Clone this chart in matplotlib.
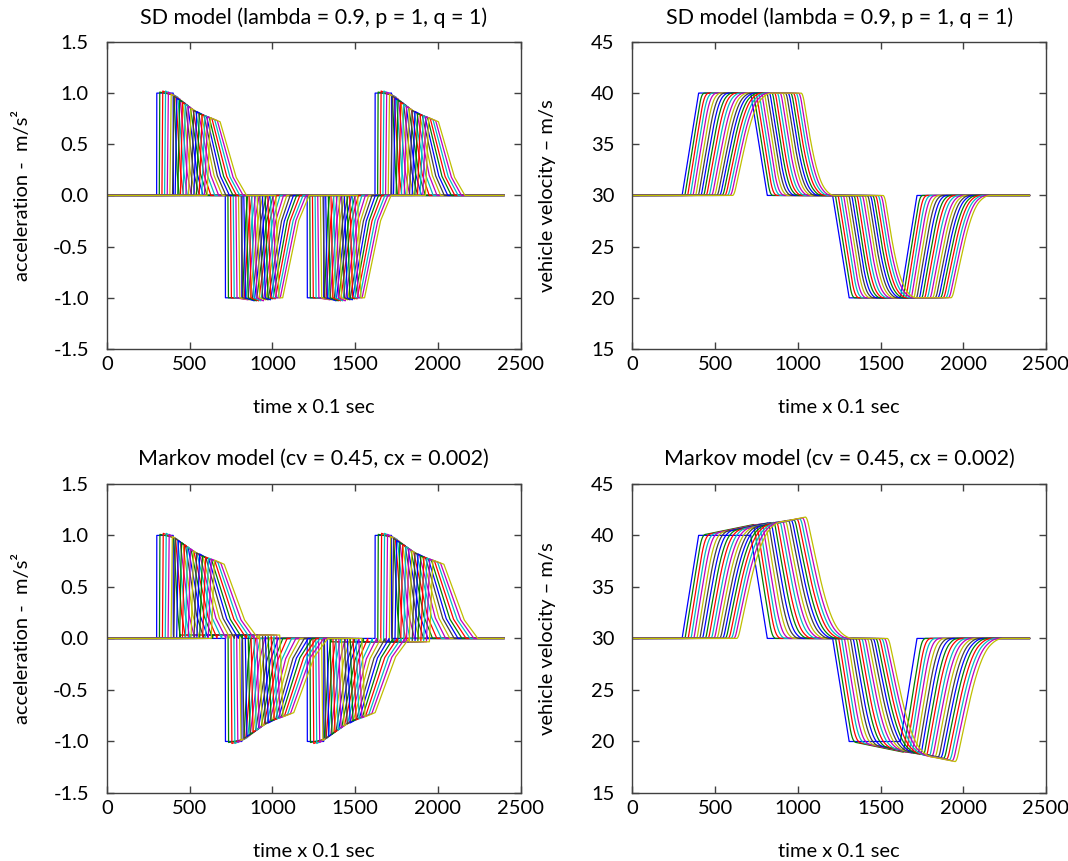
import numpy as np
import matplotlib
matplotlib.use("Agg")
import matplotlib.pyplot as plt
from matplotlib.ticker import FormatStrFormatter

plt.rcParams['font.family'] = ['Lato', 'DejaVu Sans']
plt.rcParams['axes.unicode_minus'] = False

# ---- data (time in steps of 0.1 s) ----
t_end = 2400
n_cars = 20
lead_start = [300, 715, 1210, 1620]          # lead car starts its 4 speed changes
sd_targets = [40, 30, 20, 30]                # SD model: speed after each change

# lag of each car behind the lead car
sd_lag = [0, 16, 32, 48, 64, 80, 96, 112, 128, 144, 160, 177, 193, 209, 225, 241, 257, 273, 289, 305]
mk_lag = [0, 17, 35, 52, 69, 87, 104, 121, 139, 156, 174, 191, 208, 226, 243, 260, 278, 295, 312, 330]

# shape of each car's acceleration pulse
rise_len = [1, 3, 5, 6, 7, 8, 9, 10, 11, 12, 13, 14, 15, 16, 17, 17, 18, 19, 19, 20]
sd_fall_len = [1, 30, 46, 57, 67, 77, 85, 93, 101, 108, 115, 121, 127, 133, 138, 143, 148, 152, 156, 160]
mk_fall_len = [1, 40, 60, 75, 88, 100, 111, 121, 131, 140, 149, 157, 165, 172, 179, 185, 191, 196, 201, 205]
acc_top_start = [1.0, 1.01, 1.02, 1.02, 1.01, 0.99, 0.97, 0.95, 0.93, 0.91, 0.89, 0.87, 0.85, 0.83,
                 0.82, 0.8, 0.79, 0.78, 0.77, 0.76]
acc_top_end = [1.0, 0.98, 0.97, 0.96, 0.94, 0.92, 0.9, 0.88, 0.86, 0.84, 0.82, 0.8, 0.79, 0.78,
               0.77, 0.76, 0.75, 0.74, 0.73, 0.72]
sd_brake_end = [1.0, 1.0, 1.01, 1.01, 1.02, 1.02, 1.02, 1.03, 1.03, 1.03, 1.03, 1.03, 1.02, 1.02,
                1.02, 1.01, 1.01, 1.0, 1.0, 1.0]

# Markov model: speed at end of the first speed-up and of the second slow-down
mk_top = [40.0, 40.1, 40.15, 40.2, 40.3, 40.35, 40.45, 40.5, 40.55, 40.6, 40.7, 40.75, 40.8, 40.9,
          40.95, 41.0, 41.1, 41.15, 41.25, 41.35]
mk_bottom = [20.0, 19.9, 19.85, 19.8, 19.7, 19.65, 19.55, 19.5, 19.4, 19.35, 19.25, 19.2, 19.1, 19.0,
             18.95, 18.85, 18.75, 18.65, 18.55, 18.45]
mk_drift = 0.033   # slow speed creep of the followers on the plateaus (m/s^2)

# old matlab colour order
car_colors = ['#0000ff', '#008000', '#ff0000', '#00bfbf', '#bf00bf', '#bfbf00', '#404040']

t = np.arange(0, t_end + 1)


def pulse(start, area, rise, fall, a0, a1):
    # quick rise, sloping top, soft tail; area = 10 * speed change
    body = (area - rise * a0 / 2 - 0.425 * fall * a1) / ((a0 + a1) / 2)
    t1 = start + rise
    t2 = t1 + body
    return [start, t1, t2, t2 + 0.6 * fall, t2 + fall], [0, a0, a1, 0.25 * a1, 0]


def car_trace(k, lag, fall, targets, brake_end, drift):
    acc = np.zeros(t.size)
    speed = 30.0
    end = 0
    for j in range(4):
        start = lead_start[j] + lag[k]
        if drift and k > 0 and j in (1, 3):
            sg = 1 if j == 1 else -1
            gap = (t > end) & (t < start)
            acc[gap] += sg * drift
            speed += sg * drift * gap.sum() * 0.1
        dv = targets[j] - speed
        a0 = acc_top_start[k]
        a1 = acc_top_end[k]
        if brake_end is not None and dv < 0:
            a0, a1 = 1.0, brake_end[k]
        kt, ka = pulse(start, abs(dv) * 10, rise_len[k], fall[k], a0, a1)
        acc += np.sign(dv) * np.interp(t, kt, ka)
        speed = targets[j]
        end = kt[-1]
    return acc, 30 + np.cumsum(acc) * 0.1


fig = plt.figure(figsize=(10.68, 8.61), dpi=100)
ax_sd_a = fig.add_axes([0.1002, 0.5947, 0.3872, 0.3566])
ax_sd_v = fig.add_axes([0.5922, 0.5947, 0.3872, 0.3566])
ax_mk_a = fig.add_axes([0.1002, 0.0790, 0.3872, 0.3590])
ax_mk_v = fig.add_axes([0.5922, 0.0790, 0.3872, 0.3590])

for k in range(n_cars):
    col = car_colors[k % len(car_colors)]
    a, v = car_trace(k, sd_lag, sd_fall_len, sd_targets, sd_brake_end, 0)
    ax_sd_a.plot(t, a, color=col, lw=0.9)
    ax_sd_v.plot(t, v, color=col, lw=0.9)
    mk_targets = [mk_top[k], 30, mk_bottom[k], 30]
    a, v = car_trace(k, mk_lag, mk_fall_len, mk_targets, None, mk_drift)
    ax_mk_a.plot(t, a, color=col, lw=0.9)
    ax_mk_v.plot(t, v, color=col, lw=0.9)

sd_title = "SD model (lambda = 0.9, p = 1, q = 1)"
mk_title = "Markov model (cv = 0.45, cx = 0.002)"

for ax, title, kind in [(ax_sd_a, sd_title, 'a'), (ax_sd_v, sd_title, 'v'),
                        (ax_mk_a, mk_title, 'a'), (ax_mk_v, mk_title, 'v')]:
    ax.set_xlim(0, 2500)
    ax.set_xticks([0, 500, 1000, 1500, 2000, 2500])
    if kind == 'a':
        ax.set_ylim(-1.5, 1.5)
        ax.set_yticks(np.arange(-1.5, 1.51, 0.5))
        ax.yaxis.set_major_formatter(FormatStrFormatter('%.1f'))
        ax.set_ylabel("acceleration -  m/s²", fontsize=14.5, va='center')
    else:
        ax.set_ylim(15, 45)
        ax.set_yticks([15, 20, 25, 30, 35, 40, 45])
        ax.set_ylabel("vehicle velocity \u2013 m/s", fontsize=14.5, va='center')
    ax.set_xlabel("time x 0.1 sec", fontsize=14.5, va='center')
    ax.yaxis.set_label_coords(-0.205, 0.5)
    ax.xaxis.set_label_coords(0.5, -0.19)
    ax.text(0.5, 1.08, title, transform=ax.transAxes, ha='center', va='center', fontsize=15.5)
    ax.tick_params(direction='in', top=True, right=True, length=5, width=1,
                   color='#404040', labelsize=14.5)
    ax.tick_params(axis='y', pad=13)
    ax.tick_params(axis='x', pad=5)
    for sp in ax.spines.values():
        sp.set_color('#404040')
        sp.set_linewidth(1)

fig.savefig("out.png", dpi=100)
